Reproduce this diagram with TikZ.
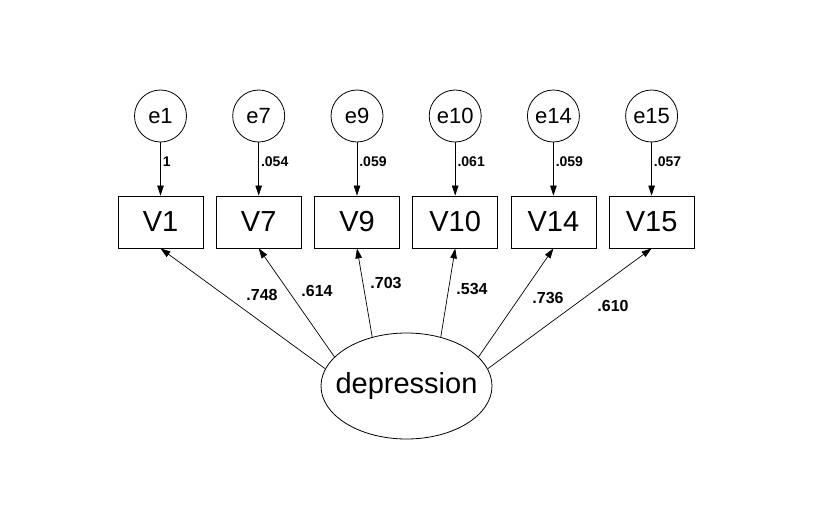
\documentclass[tikz,border=0pt]{standalone}
\usepackage{fontspec}
\setmainfont{Liberation Sans}
\usetikzlibrary{shapes.geometric,arrows.meta}

\begin{document}
\begin{tikzpicture}[
  x=1pt, y=-1pt,
  obs/.style={
    rectangle, draw, line width=0.8pt,
    minimum width=85pt, minimum height=52pt, inner sep=0pt,
    font=\fontsize{29}{32}\selectfont
  },
  err/.style={
    circle, draw, line width=0.8pt,
    minimum size=52pt, inner sep=0pt,
    font=\fontsize{22}{24}\selectfont
  },
  lat/.style={
    ellipse, draw, line width=0.8pt,
    minimum width=171pt, minimum height=106pt,
    inner xsep=-12pt, inner ysep=0pt,
    font=\fontsize{29}{32}\selectfont
  },
  wt/.style={font=\bfseries\fontsize{14}{16}\selectfont, inner sep=2pt},
  ld/.style={font=\bfseries\fontsize{16}{18}\selectfont, inner sep=0pt},
  arr/.style={-{Triangle[length=10pt,width=6.5pt]}, line width=0.7pt}
]
\useasboundingbox (0,0) rectangle (830,504);

\node[obs] (v1) at (160.5,222) {V1};
\node[obs] (v7) at (258.7,222) {V7};
\node[obs] (v9) at (357,222) {V9};
\node[obs] (v10) at (455.2,222) {V10};
\node[obs] (v14) at (553.4,222) {V14};
\node[obs] (v15) at (651.6,222) {V15};

\node[err] (e1) at (160.5,116) {e1};
\node[err] (e7) at (258.7,116) {e7};
\node[err] (e9) at (357,116) {e9};
\node[err] (e10) at (455.2,116) {e10};
\node[err] (e14) at (553.4,116) {e14};
\node[err] (e15) at (651.6,116) {e15};

\node[lat] (dep) at (406.5,386) {depression};

\draw[arr] (e1) -- node[wt, pos=0.37, right] (w1) {1} (v1);
\draw[arr] (e7) -- node[wt, pos=0.37, right] (w7) {.054} (v7);
\draw[arr] (e9) -- node[wt, pos=0.37, right] (w9) {.059} (v9);
\draw[arr] (e10) -- node[wt, pos=0.37, right] (w10) {.061} (v10);
\draw[arr] (e14) -- node[wt, pos=0.37, right] (w14) {.059} (v14);
\draw[arr] (e15) -- node[wt, pos=0.37, right] (w15) {.057} (v15);

\draw[arr] (dep.168) -- (v1.south);
\draw[arr] (dep.158) -- (v7.south);
\draw[arr] (dep.125) -- (v9.south);
\draw[arr] (dep.55) -- (v10.south);
\draw[arr] (dep.22) -- (v14.south);
\draw[arr] (dep.12) -- (v15.south);

\node[ld] (l1) at (262,295) {.748};
\node[ld] (l7) at (317,291) {.614};
\node[ld] (l9) at (386,283) {.703};
\node[ld] (l10) at (472,289) {.534};
\node[ld] (l14) at (548,298) {.736};
\node[ld] (l15) at (613,306) {.610};
\end{tikzpicture}
\end{document}
